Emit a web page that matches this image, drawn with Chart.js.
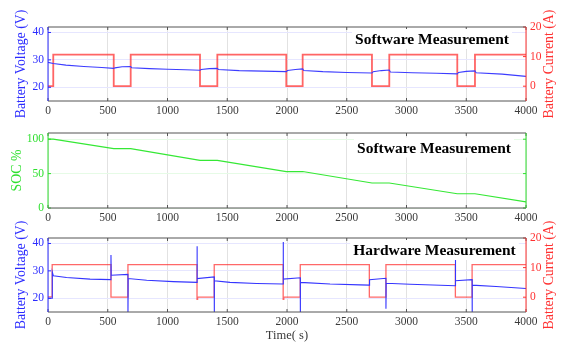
<!DOCTYPE html>
<html>
<head>
<meta charset="utf-8">
<script src="https://cdn.jsdelivr.net/npm/chart.js@4.4.1/dist/chart.umd.min.js"></script>
<style>
  html, body { margin: 0; padding: 0; background: #fff; }
  #wrap { position: relative; width: 567px; height: 345px; overflow: hidden; }
  canvas { position: absolute; left: 0; }
</style>
</head>
<body>
<div id="wrap">
  <canvas id="c1" width="567" height="120" style="top:0px"></canvas>
  <canvas id="c2" width="567" height="105" style="top:120px"></canvas>
  <canvas id="c3" width="567" height="145" style="top:200px"></canvas>
</div>
<script>
// ---- tick labels ----
const timeTicks = [0, 500, 1000, 1500, 2000, 2500, 3000, 3500, 4000];
const voltTicks = [20, 30, 40];
const currTicks = [0, 10, 20];
const socTicks = [0, 50, 100];

// ---- software measurement: pack voltage (V) over time (s) ----
const swVoltTime = [0, 44, 150, 300, 450, 550, 560, 620, 692, 700, 850, 1000, 1150, 1272,
  1282, 1350, 1417, 1425, 1600, 1800, 1994, 2004, 2070, 2131, 2140, 2300, 2500, 2711,
  2721, 2790, 2856, 2865, 3050, 3250, 3425, 3435, 3500, 3573, 3582, 3800, 4000];
const swVoltage = [29.1, 28.7, 28.1, 27.6, 27.2, 26.9, 27.1, 27.5, 27.6, 27.1, 26.8, 26.6, 26.4, 26.2,
  26.5, 26.8, 26.9, 26.5, 26.1, 25.9, 25.7, 26.1, 26.5, 26.7, 26.1, 25.7, 25.4, 25.2,
  25.7, 26.1, 26.3, 25.6, 25.3, 25.1, 24.9, 25.4, 25.8, 26.0, 25.3, 24.8, 24.0];

// ---- software measurement: load current (A), level held from each switching instant ----
const swSwitchTime = [0, 44, 550, 692, 1272, 1417, 1994, 2131, 2711, 2856, 3425, 3573, 4000];
const swCurrent = [0, 10.7, 0, 10.7, 0, 10.7, 0, 10.7, 0, 10.7, 0, 10.7, 10.7];

// ---- software measurement: state of charge (%) ----
const socTime = [0, 44, 550, 692, 1272, 1417, 1994, 2131, 2711, 2856, 3425, 3573, 4000];
const socValue = [100, 100, 86.3, 86.3, 69.2, 69.2, 53, 53, 36.3, 36.3, 20.7, 20.7, 9];

// ---- hardware measurement: pack voltage (V), including switching transients ----
const hwVoltTime = [0, 35, 36, 45, 155, 352, 527, 527, 529, 669, 669, 671, 826, 1049, 1247, 1247,
  1249, 1391, 1391, 1393, 1523, 1746, 1968, 1968, 1970, 2111, 2111, 2113, 2360, 2611, 2689,
  2691, 2828, 2828, 2830, 3029, 3409, 3409, 3411, 3549, 3549, 3551, 3750, 4000];
const hwVoltage = [20.0, 20.0, 29.6, 28.2, 27.6, 27.0, 26.8, 35.8, 28.4, 28.7, 12, 27.2, 26.6, 26.1, 25.8, 39.0,
  27.2, 27.8, 12, 26.4, 25.8, 25.4, 25.2, 40.5, 27.0, 27.5, 12, 25.8, 25.2, 24.9, 24.8,
  26.8, 27.3, 16.2, 25.5, 25.1, 24.6, 34.2, 26.4, 26.8, 12, 24.8, 24.3, 23.6];

// ---- hardware measurement: load current (A) ----
const hwSwitchTime = [0, 35, 527, 669, 1247, 1252, 1391, 1968, 1973, 2111, 2689, 2828, 3409, 3549, 4000];
const hwCurrent = [0.1, 11.0, 0, 11.0, -0.7, 0, 11.0, -0.7, 0, 11.0, 0, 11.0, 0, 11.0, 11.0];

const toPoints = (xs, ys) => xs.map((x, i) => ({ x: x, y: ys[i] }));
const fixedTicks = list => scale => { scale.ticks = list.map(v => ({ value: v })); };

const SERIF = "'Liberation Serif', 'Times New Roman', serif";
const tickFont = { family: SERIF, size: 11.5 };
const GRAY = '#3a3a3a';
const BLUE = '#2b2bff';
const RED = '#ff3030';
const GREEN = '#2ee02e';

// axes box with inward tick marks, coloured per side
const framePlugin = {
  id: 'frame',
  afterDatasetsDraw(chart, args, o) {
    const { ctx, chartArea: a, scales } = chart;
    const len = 3;
    ctx.save();
    ctx.lineWidth = 1;
    const seg = (x1, y1, x2, y2, c) => {
      ctx.strokeStyle = c; ctx.beginPath(); ctx.moveTo(x1, y1); ctx.lineTo(x2, y2); ctx.stroke();
    };
    scales.x.ticks.forEach(t => {
      const px = scales.x.getPixelForValue(t.value);
      seg(px, a.top, px, a.top + len, o.xColor);
      seg(px, a.bottom, px, a.bottom - len, o.xColor);
    });
    scales.y.ticks.forEach(t => {
      const py = scales.y.getPixelForValue(t.value);
      seg(a.left, py, a.left + len, py, o.leftColor);
      if (!scales.y2) seg(a.right, py, a.right - len, py, o.rightColor);
    });
    if (scales.y2) {
      scales.y2.ticks.forEach(t => {
        const py = scales.y2.getPixelForValue(t.value);
        seg(a.right, py, a.right - len, py, o.rightColor);
      });
    }
    seg(a.left, a.top, a.right, a.top, o.xColor);
    seg(a.left, a.bottom, a.right, a.bottom, o.xColor);
    seg(a.left, a.top, a.left, a.bottom, o.leftColor);
    seg(a.right, a.top, a.right, a.bottom, o.rightColor);
    ctx.restore();
  }
};

// boxed caption inside the plot
const captionPlugin = {
  id: 'caption',
  afterDatasetsDraw(chart, args, o) {
    if (!o.text) return;
    const { ctx } = chart;
    ctx.save();
    ctx.font = 'bold 15.5px ' + SERIF;
    const w = ctx.measureText(o.text).width;
    ctx.fillStyle = '#fff';
    ctx.fillRect(o.x - w / 2 - 3, o.y - 10, w + 6, 20);
    ctx.fillStyle = '#000';
    ctx.textAlign = 'center';
    ctx.textBaseline = 'middle';
    ctx.fillText(o.text, o.x, o.y + 1);
    ctx.restore();
  }
};

// vertical axis titles, both reading bottom to top, free to run past the plot height
const sideTitlePlugin = {
  id: 'sideTitle',
  afterDraw(chart, args, o) {
    const { ctx, chartArea: a } = chart;
    (o.items || []).forEach(it => {
      ctx.save();
      ctx.translate(it.x, (a.top + a.bottom) / 2);
      ctx.rotate(-Math.PI / 2);
      ctx.font = '13.8px ' + SERIF;
      ctx.fillStyle = it.color;
      ctx.textAlign = 'center';
      ctx.textBaseline = 'middle';
      ctx.fillText(it.text, 0, 0);
      ctx.restore();
    });
  }
};

function xScale(height, withTitle) {
  return {
    type: 'linear', min: 0, max: 4000,
    afterBuildTicks: fixedTicks(timeTicks),
    afterFit: s => { s.height = height; },
    grid: { color: '#e2e2e2', drawTicks: false },
    border: { display: false },
    ticks: { padding: 3, color: GRAY, font: tickFont, autoSkip: false, maxRotation: 0, callback: v => String(v) },
    title: { display: withTitle, text: 'Time( s)', color: GRAY, font: { family: SERIF, size: 12.5 }, padding: { top: 0, bottom: 2 } }
  };
}

function leftScale(min, max, list, color, gridColor) {
  return {
    position: 'left', min: min, max: max,
    afterBuildTicks: fixedTicks(list),
    afterFit: s => { s.width = 48; },
    grid: { color: gridColor, drawTicks: false },
    border: { display: false },
    ticks: { padding: 4, color: color, font: tickFont, callback: v => String(v) }
  };
}

function rightScale() {
  return {
    position: 'right', min: -5, max: 20,
    afterBuildTicks: fixedTicks(currTicks),
    afterFit: s => { s.width = 41; },
    grid: { display: false, drawTicks: false },
    border: { display: false },
    ticks: { padding: 4, color: RED, font: tickFont, callback: v => String(v) }
  };
}

const common = {
  responsive: false, animation: false, events: [],
  elements: { point: { radius: 0 }, line: { tension: 0 } }
};

// Panel 1: software voltage and current
new Chart(document.getElementById('c1'), {
  type: 'line',
  data: { datasets: [
    { data: toPoints(swVoltTime, swVoltage), yAxisID: 'y', borderColor: '#3d3dff', borderWidth: 1.1 },
    { data: toPoints(swSwitchTime, swCurrent), yAxisID: 'y2', stepped: true, borderColor: 'rgba(255,50,50,0.75)', borderWidth: 1.8 }
  ] },
  options: Object.assign({}, common, {
    layout: { padding: { top: 27, left: 0, right: 0, bottom: 0 } },
    plugins: {
      legend: { display: false }, tooltip: { enabled: false },
      frame: { xColor: '#555', leftColor: BLUE, rightColor: RED },
      caption: { text: 'Software Measurement', x: 432, y: 39 },
      sideTitle: { items: [
        { text: 'Battery Voltage (V)', color: BLUE, x: 21 },
        { text: 'Battery Current (A)', color: RED, x: 549.5 }
      ] }
    },
    scales: {
      x: xScale(19, false),
      y: leftScale(15, 42, voltTicks, BLUE, '#e6e6ff'),
      y2: rightScale()
    }
  }),
  plugins: [framePlugin, captionPlugin, sideTitlePlugin]
});

// Panel 2: state of charge
new Chart(document.getElementById('c2'), {
  type: 'line',
  data: { datasets: [
    { data: toPoints(socTime, socValue), yAxisID: 'y', borderColor: '#35e835', borderWidth: 1.2 }
  ] },
  options: Object.assign({}, common, {
    layout: { padding: { top: 13, left: 0, right: 41, bottom: 0 } },
    plugins: {
      legend: { display: false }, tooltip: { enabled: false },
      frame: { xColor: '#555', leftColor: GREEN, rightColor: GREEN },
      caption: { text: 'Software Measurement', x: 434, y: 27.5 },
      sideTitle: { items: [ { text: 'SOC %', color: GREEN, x: 17.5 } ] }
    },
    scales: {
      x: xScale(17, false),
      y: leftScale(0, 109, socTicks, GREEN, '#e6fbe6')
    }
  }),
  plugins: [framePlugin, captionPlugin, sideTitlePlugin]
});

// Panel 3: hardware voltage and current (canvas starts higher so the titles have room)
new Chart(document.getElementById('c3'), {
  type: 'line',
  data: { datasets: [
    { data: toPoints(hwVoltTime, hwVoltage), yAxisID: 'y', borderColor: '#3535ff', borderWidth: 1.1 },
    { data: toPoints(hwSwitchTime, hwCurrent), yAxisID: 'y2', stepped: true, borderColor: 'rgba(255,40,40,0.7)', borderWidth: 1.3 }
  ] },
  options: Object.assign({}, common, {
    layout: { padding: { top: 38, left: 0, right: 0, bottom: 0 } },
    plugins: {
      legend: { display: false }, tooltip: { enabled: false },
      frame: { xColor: '#555', leftColor: BLUE, rightColor: RED },
      caption: { text: 'Hardware Measurement', x: 434.5, y: 50 },
      sideTitle: { items: [
        { text: 'Battery Voltage (V)', color: BLUE, x: 21 },
        { text: 'Battery Current (A)', color: RED, x: 549.5 }
      ] }
    },
    scales: {
      x: xScale(33, true),
      y: leftScale(15, 42, voltTicks, BLUE, '#e6e6ff'),
      y2: rightScale()
    }
  }),
  plugins: [framePlugin, captionPlugin, sideTitlePlugin]
});
</script>
</body>
</html>
